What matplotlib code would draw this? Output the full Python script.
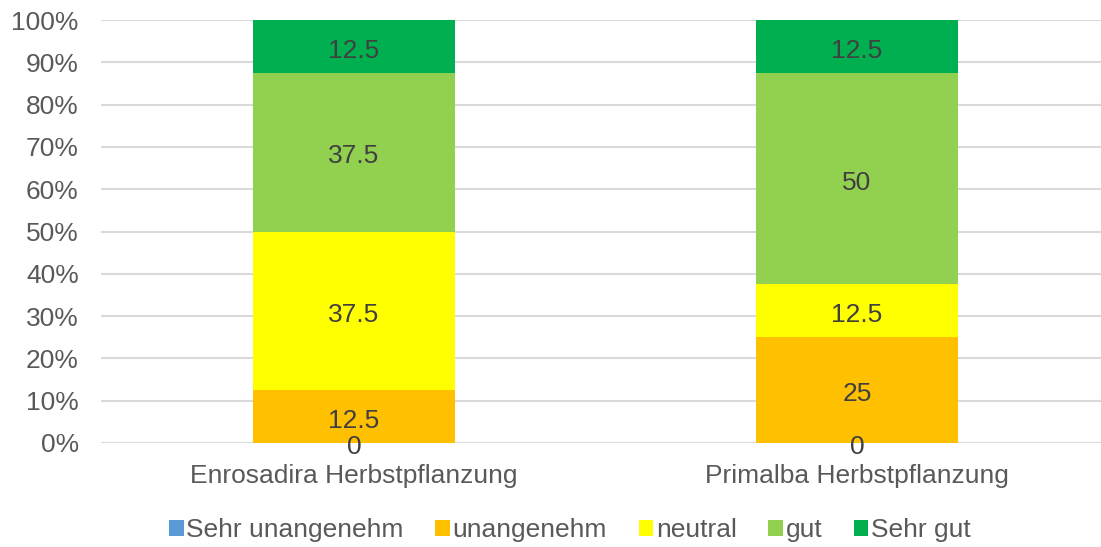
import matplotlib.pyplot as plt
from matplotlib.patches import Patch
from matplotlib.ticker import PercentFormatter

plt.rcParams['font.family'] = ['Liberation Sans', 'DejaVu Sans']

categories = ['Enrosadira Herbstpflanzung', 'Primalba Herbstpflanzung']
series = ['Sehr unangenehm', 'unangenehm', 'neutral', 'gut', 'Sehr gut']
values = {
    'Sehr unangenehm': [0, 0],
    'unangenehm': [12.5, 25],
    'neutral': [37.5, 12.5],
    'gut': [37.5, 50],
    'Sehr gut': [12.5, 12.5],
}
colors = ['#5B9BD5', '#FFC000', '#FFFF00', '#92D050', '#00B050']

totals = [sum(values[s][i] for s in series) for i in range(len(categories))]

fig = plt.figure(figsize=(11.01, 5.47), dpi=100)
ax = fig.add_axes([101 / 1101, 104 / 547, 1000 / 1101, 423 / 547])

x = list(range(len(categories)))
bottom = [0.0] * len(categories)
for name, col in zip(series, colors):
    share = [v / t for v, t in zip(values[name], totals)]
    ax.bar(x, share, width=0.40, bottom=bottom, color=col, zorder=2)
    for i, (v, s) in enumerate(zip(values[name], share)):
        ax.annotate(f'{v:g}', (x[i], bottom[i] + s / 2), xytext=(0, -3),
                    textcoords='offset points', ha='center', va='center',
                    fontsize=19, color='#404040', zorder=3)
    bottom = [b + s for b, s in zip(bottom, share)]

ax.set_ylim(0, 1)
ax.set_xlim(-0.503, 1.485)
ax.set_yticks([i / 10 for i in range(11)])
ax.yaxis.set_major_formatter(PercentFormatter(1.0, decimals=0))
ax.set_xticks(x)
ax.set_xticklabels(categories)
ax.tick_params(axis='both', length=0, labelsize=19, colors='#595959')
ax.tick_params(axis='y', pad=16)
ax.tick_params(axis='x', pad=15)
ax.grid(axis='y', color='#D9D9D9', linewidth=1.5, zorder=0)
for sp in ax.spines.values():
    sp.set_visible(False)

handles = [Patch(facecolor=c, edgecolor='none') for c in colors]
fig.legend(handles, series, loc='center', bbox_to_anchor=(570 / 1101, 1 - 530 / 547),
           ncol=5, frameon=False, fontsize=19, handlelength=0.55, handleheight=0.55,
           handletextpad=0.1, columnspacing=1.2, labelcolor='#595959')

fig.savefig('out.png', dpi=100)
